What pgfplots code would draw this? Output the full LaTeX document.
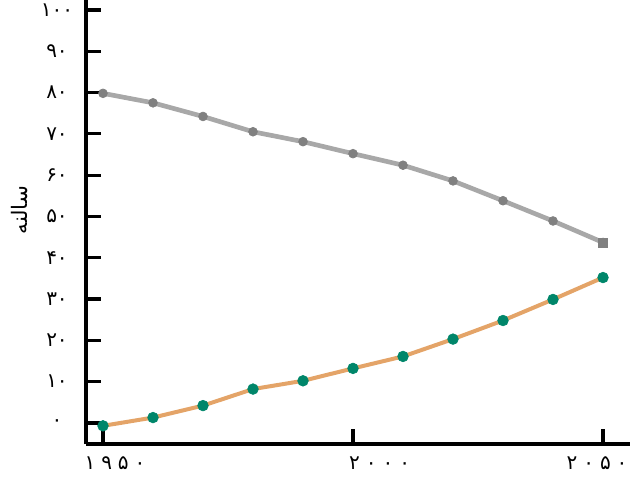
\documentclass[border=0pt]{standalone}
\usepackage{fontspec}
\usepackage{pgfplots}
\pgfplotsset{compat=1.18}
\TeXXeTstate=1
\newfontfamily\fa[Script=Arabic]{DejaVu Sans}
\newfontfamily\faspaced[Script=Arabic,LetterSpace=30]{DejaVu Sans}
\definecolor{greyline}{RGB}{168,168,168}
\definecolor{greymark}{RGB}{128,128,128}
\definecolor{sand}{RGB}{228,164,104}
\definecolor{tealdot}{RGB}{0,134,106}

\begin{document}
\begin{tikzpicture}
\begin{axis}[
  scale only axis, width=408pt, height=333pt,
  xmin=1946.6, xmax=2055.4, ymin=-5.1, ymax=102.4,
  axis lines=left, axis line style={line width=3pt, -},
  tick align=inside, major tick length=11pt,
  tick style={line width=2.4pt, black},
  xtick={1950,2000,2050},
  xticklabels={\hspace*{18pt}۱۹۵۰, \hspace*{40pt}۲۰۰۰, ۲۰۵۰\hspace*{9pt}},
  ytick={0,10,...,100},
  yticklabels={۰,۱۰,۲۰,۳۰,۴۰,۵۰,۶۰,۷۰,۸۰,۹۰,۱۰۰},
  xticklabel style={font=\faspaced\fontsize{15}{17}\selectfont, anchor=center, yshift=-14pt},
  yticklabel style={font=\fa\fontsize{15}{17}\selectfont, anchor=center, xshift=-21.75pt},
  ylabel={\fa\fontsize{16}{18}\selectfont\beginR سالنه\endR},
  ylabel style={at={(axis description cs:-0.122,0.527)}, anchor=center},
  clip=false,
]
\addplot[greyline, line width=3.5pt, mark=*, mark size=3.3pt,
  mark options={fill=greymark, draw=greymark, line width=0.5pt}]
  coordinates {(1950,79.8) (1960,77.5) (1970,74.2) (1980,70.5) (1990,68.1)
  (2000,65.2) (2010,62.4) (2020,58.6) (2030,53.8) (2040,48.9) (2050,43.7)};
\addplot[only marks, mark=square*, mark size=3.4pt,
  mark options={fill=greymark, draw=greymark}]
  coordinates {(2050,43.7)};
\addplot[sand, line width=3pt, mark=*, mark size=4pt,
  mark options={fill=tealdot, draw=tealdot, line width=0.5pt}]
  coordinates {(1950,-0.7) (1960,1.3) (1970,4.2) (1980,8.2) (1990,10.2)
  (2000,13.2) (2010,16.1) (2020,20.3) (2030,24.8) (2040,29.9) (2050,35.2)};
\end{axis}
\pgfresetboundingbox
\path[use as bounding box] (-64.5pt,-28.5pt) rectangle (408pt,333pt);
\end{tikzpicture}
\end{document}
